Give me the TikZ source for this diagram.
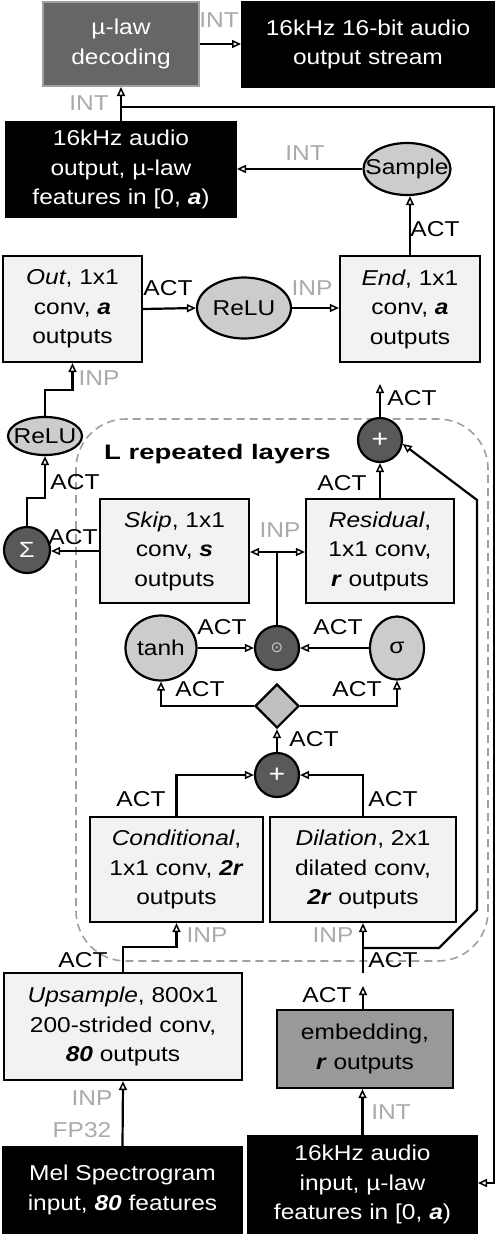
\documentclass[tikz,border=0pt]{standalone}
\usepackage{fontspec}
\setmainfont{Liberation Sans}[FakeStretch=1.14]
\newfontfamily\dejavu{DejaVu Sans}
\usetikzlibrary{shapes.geometric,arrows.meta}
\definecolor{lightbox}{HTML}{F2F2F2}
\definecolor{ellgray}{HTML}{CCCCCC}
\definecolor{darkc}{HTML}{595959}
\definecolor{diagray}{HTML}{BFBFBF}
\definecolor{embgray}{HTML}{999999}
\definecolor{decgray}{HTML}{666666}
\definecolor{decborder}{HTML}{A0A0A0}
\definecolor{labgray}{HTML}{AAAAAA}
\definecolor{dashgray}{HTML}{A0A0A0}
\begin{document}
\begin{tikzpicture}[x=1pt,y=-1pt,
  font=\fontsize{21.5}{29.5}\selectfont,
  ln/.style={line width=2.2pt},
  arr/.style={line width=2.2pt,-{Triangle[open,length=9pt,width=8pt,line width=1.5pt]}},
  lbox/.style={draw=black,line width=2.2pt,fill=lightbox,align=center,inner sep=0pt},
  bbox/.style={draw=black,line width=2pt,fill=black,text=white,align=center,inner sep=0pt},
  ell/.style={ellipse,draw=black,line width=2.2pt,fill=ellgray,inner sep=0pt},
  darkn/.style={circle,draw=black,line width=2.2pt,fill=darkc,text=white,inner sep=0pt,minimum size=44pt},
  lab/.style={inner sep=0pt},
  glab/.style={inner sep=0pt,text=labgray},
]
\useasboundingbox (0,0) rectangle (496,1234);

% repeated-layer region
\draw[dashgray,line width=1.6pt,dash pattern=on 8pt off 5pt,rounded corners=50pt] (76,419) rectangle (488,961);
\node[lab,anchor=base west,font=\fontsize{21}{24}\selectfont\bfseries] (ltitle) at (104,459) {\scalebox{1.15}[1]{L repeated layers}};

% nodes
\node[draw=decborder,line width=2pt,fill=decgray,text=white,align=center,inner sep=0pt,minimum width=156pt,minimum height=84pt] (dec) at (121,44) {µ-law\\decoding};
\node[bbox,minimum width=252pt,minimum height=85pt] (outs) at (368,44.5) {16kHz 16-bit audio\\output stream};
\node[bbox,minimum width=230pt,minimum height=95pt] (aout) at (121,169.5) {16kHz audio\\output, µ-law\\features in [0, \textbf{\textit{a}})};
\node[ell,minimum width=87pt,minimum height=52pt,label={center:Sample}] (samp) at (407,169) {};
\node[lbox,minimum width=139pt,minimum height=106pt] (outb) at (72.5,309) {\textit{Out}, 1x1\\conv, \textbf{\textit{a}}\\outputs};
\node[ell,minimum width=94pt,minimum height=61pt,label={center:ReLU}] (relu1) at (244,308) {};
\node[lbox,minimum width=140pt,minimum height=106pt] (endb) at (410,309) {\textit{End}, 1x1\\conv, \textbf{\textit{a}}\\outputs};
\node[ell,minimum width=74pt,minimum height=38pt,label={center:ReLU}] (relu2) at (45,436) {};
\node[darkn,font=\fontsize{25}{25}\selectfont] (plus1) at (380,440) {+};
\node[darkn,minimum size=46pt,font=\fontsize{22}{22}\selectfont] (sigma) at (27,550) {Σ};
\node[lbox,minimum width=149pt,minimum height=104pt] (skip) at (174.5,551) {\textit{Skip}, 1x1\\conv, \textbf{\textit{s}}\\outputs};
\node[lbox,minimum width=148pt,minimum height=104pt] (resid) at (380,551) {\textit{Residual},\\1x1 conv,\\\textbf{\textit{r}} outputs};
\node[ell,minimum width=71pt,minimum height=65pt,label={center:tanh}] (tanh) at (161,648) {};
\node[darkn,text=ellgray,font=\dejavu\fontsize{15}{15}\selectfont] (odot) at (277,648) {⊙};
\node[ell,minimum width=54pt,minimum height=63pt,label={center:σ}] (sig) at (397,648) {};
\node[diamond,draw=black,line width=2.2pt,fill=diagray,inner sep=0pt,minimum width=44pt,minimum height=44pt] (dia) at (277,706) {};
\node[darkn,font=\fontsize{25}{25}\selectfont] (plus2) at (277,775) {+};
\node[lbox,minimum width=173pt,minimum height=105pt] (cond) at (176.5,869.5) {\textit{Conditional},\\1x1 conv, \textbf{\textit{2r}}\\outputs};
\node[lbox,minimum width=186pt,minimum height=105pt] (dil) at (363,869.5) {\textit{Dilation}, 2x1\\dilated conv,\\\textbf{\textit{2r}} outputs};
\node[lbox,minimum width=238pt,minimum height=107pt] (ups) at (123,1026.5) {\textit{Upsample}, 800x1\\200-strided conv,\\\textbf{\textit{80}} outputs};
\node[draw=black,line width=2.2pt,fill=embgray,align=center,inner sep=0pt,minimum width=176pt,minimum height=78pt] (emb) at (365,1049) {embedding,\\\textbf{\textit{r}} outputs};
\node[bbox,minimum width=239pt,minimum height=86pt] (mel) at (122.5,1190) {Mel Spectrogram\\input, \textbf{\textit{80}} features};
\node[bbox,minimum width=229pt,minimum height=97pt] (ain) at (362.5,1184.5) {16kHz audio\\input, µ-law\\features in [0, \textbf{\textit{a}})};

% helper coordinates
\coordinate (fb) at (121,107);
\coordinate (fbR) at (494,107);
\coordinate (fbB) at (494,1183);
\coordinate (c1) at (72.5,390);
\coordinate (c2) at (45,498);
\coordinate (endgap) at (380,384);
\coordinate (j1) at (277,552);
\coordinate (c3) at (176.5,947);
\coordinate (embtip) at (363,986);
\coordinate (dgap) at (363,973);
\coordinate (b1) at (363,948);
\coordinate (b2) at (439,948);
\coordinate (b3) at (477,910);
\coordinate (b4) at (477,500);

% connectors
\draw[arr] (dec.east) -- (outs.west |- dec.east);
\draw[arr] (aout.north) -- (dec.south);
\draw[arr] (fb) -- (fbR) -- (fbB) -- (ain.east |- fbB);
\draw[arr] (samp.west) -- (aout.east |- samp.west);
\draw[arr] (endb.north) -- (endb.north |- samp.south);
\draw[arr] (outb.east) -- (relu1.west);
\draw[arr] (relu1.east) -- (endb.west |- relu1.east);
\draw[arr] (relu2.north) |- (c1) -- (outb.south);
\draw[arr] (plus1.north) -- (endgap);
\draw[arr] (resid.north) -- (plus1.south);
\draw[arr] (sigma.north) |- (c2) -- (relu2.south);
\draw[arr] (skip.west) -- (sigma.east |- skip.west);
\draw[ln] (odot.north) -- (j1);
\draw[arr] (j1) -- (skip.east |- j1);
\draw[arr] (j1) -- (resid.west |- j1);
\draw[arr] (tanh.east) -- (odot.west);
\draw[arr] (sig.west) -- (odot.east);
\draw[arr] (dia.west) -| (tanh.south);
\draw[arr] (dia.east) -| (sig.south);
\draw[arr] (plus2.north) -- (dia.south);
\draw[arr] (cond.north) |- (plus2.west);
\draw[arr] (dil.north) |- (plus2.east);
\draw[arr] (ups.north) |- (c3) -- (cond.south);
\draw[arr] (emb.north -| embtip) -- (embtip);
\draw[arr] (dgap) -- (dil.south);
\draw[arr] (b1) -- (b2) -- (b3) -- (b4) -- (plus1.-10);
\draw[arr] (mel.north) -- (ups.south);
\draw[arr] (ain.north) -- (ain.north |- emb.south);

% labels
\node[glab] (l1) at (219,20) {INT};
\node[glab] (l2) at (89,103) {INT};
\node[glab] (l3) at (305,153) {INT};
\node[lab] (l4) at (435,229) {ACT};
\node[lab] (l5) at (168,288) {ACT};
\node[glab] (l6) at (312,288) {INP};
\node[glab] (l7) at (99,378) {INP};
\node[lab] (l8) at (412,398) {ACT};
\node[lab] (l9) at (75,482) {ACT};
\node[lab] (l10) at (73,537) {ACT};
\node[lab] (l11) at (342,483) {ACT};
\node[glab] (l12) at (280,530) {INP};
\node[lab] (l13) at (222,627) {ACT};
\node[lab] (l14) at (338,627) {ACT};
\node[lab] (l15) at (200,689) {ACT};
\node[lab] (l16) at (357,689) {ACT};
\node[lab] (l17) at (314,739) {ACT};
\node[lab] (l18) at (141,799) {ACT};
\node[lab] (l19) at (393,799) {ACT};
\node[glab] (l20) at (207,935) {INP};
\node[lab] (l21) at (83,960) {ACT};
\node[glab] (l22) at (333,935) {INP};
\node[lab] (l23) at (393,960) {ACT};
\node[lab] (l24) at (327,995) {ACT};
\node[glab] (l25) at (92,1098) {INP};
\node[glab] (l26) at (82,1130) {FP32};
\node[glab] (l27) at (391,1112) {INT};
\end{tikzpicture}
\end{document}
